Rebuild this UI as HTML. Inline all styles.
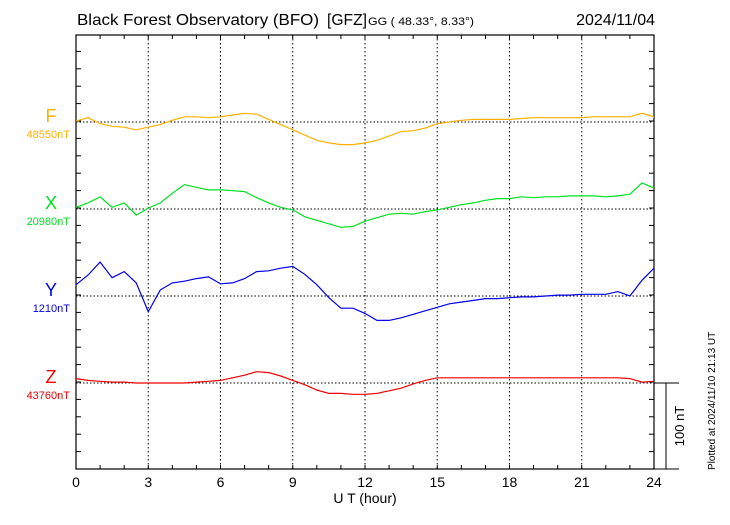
<!DOCTYPE html>
<html><head><meta charset="utf-8"><style>
body{margin:0;background:#fff;width:730px;height:520px;overflow:hidden}
svg text{font-family:"Liberation Sans",sans-serif}
</style></head><body>
<svg id="c" width="730" height="520"></svg>
<script>
const hours=[0,0.5,1,1.5,2,2.5,3,3.5,4,4.5,5,5.5,6,6.5,7,7.5,8,8.5,9,9.5,10,10.5,11,11.5,12,12.5,13,13.5,14,14.5,15,15.5,16,16.5,17,17.5,18,18.5,19,19.5,20,20.5,21,21.5,22,22.5,23,23.5,24];
const fValues=[1,5,-2,-5,-6,-9,-6,-3,2,6,6,5,6,8,10,9,3,-3,-9,-15,-21,-24,-26,-26,-24,-21,-16,-11,-10,-7,-2,0,2,3,3,3,3,4,5,5,5,5,5,6,6,6,6,10,6];
const xValues=[2,7,14,2,7,-7,1,7,18,28,25,22,22,21,20,13,7,2,-1,-9,-13,-17,-21,-20,-14,-10,-6,-5,-6,-3,-1,2,5,7,10,12,12,14,13,14,14,15,15,15,14,15,17,30,24];
const yValues=[13,24,39,21,28,15,-18,7,15,17,20,22,14,15,20,28,29,32,34,25,13,-2,-14,-14,-20,-28,-28,-25,-21,-17,-13,-9,-7,-5,-3,-3,-2,-1,-1,0,1,1,2,2,2,5,0,18,32];
const zValues=[5,3,2,1,1,0,0,0,0,0,1,2,3,6,9,13,12,8,3,-2,-8,-12,-12,-13,-13,-12,-9,-6,-1,3,6,6,6,6,6,6,6,6,6,6,6,6,6,6,6,6,5,1,2];
const xTicks=[0,3,6,9,12,15,18,21,24];
const series=[
 {name:'F',base:'48550nT',vals:fValues,col:'#ffb000',y0:122},
 {name:'X',base:'20980nT',vals:xValues,col:'#00e020',y0:209},
 {name:'Y',base:'1210nT',vals:yValues,col:'#0000ee',y0:296},
 {name:'Z',base:'43760nT',vals:zValues,col:'#ee0000',y0:383}];
const L=76,R=654,T=35,B=469,PX=0.87;
const sx=h=>L+(R-L)*h/24;
const sy=(v,y0)=>y0-v*PX;
const svg=document.getElementById('c');const NS='http://www.w3.org/2000/svg';
function el(t,a,txt){const e=document.createElementNS(NS,t);for(const k in a)e.setAttribute(k,a[k]);if(txt!=null)e.textContent=txt;svg.appendChild(e);return e;}
let e=el('rect',{x:L,y:T,width:R-L,height:B-T,fill:'none',stroke:'#000','stroke-width':1.2});

for(let h=0;h<=24;h++){const x=sx(h);
 e=el('line',{x1:x,y1:T,x2:x,y2:T+4,stroke:'#000'});
 e=el('line',{x1:x,y1:B,x2:x,y2:B-4,stroke:'#000'});}
xTicks.forEach(h=>{const x=sx(h);
 if(h>0&&h<24){e=el('line',{x1:x,y1:T,x2:x,y2:B,stroke:'#000','stroke-dasharray':'1.5,2.5'});}
 e=el('text',{x:x,y:487,'font-size':14,'text-anchor':'middle'},h);});
for(let y=B;y>=T;y-=17.4){e=el('line',{x1:R,y1:y,x2:R-5,y2:y,stroke:'#000'});
 e=el('line',{x1:L,y1:y,x2:L+5,y2:y,stroke:'#000'});}
series.forEach(s=>{
 e=el('line',{x1:L,y1:s.y0,x2:R,y2:s.y0,stroke:'#000','stroke-dasharray':'1.5,2'});
 const d=hours.map((h,i)=>(i?'L':'M')+sx(h).toFixed(1)+','+sy(s.vals[i],s.y0).toFixed(1)).join('');
 e=el('path',{d:d,fill:'none',stroke:s.col,'stroke-width':1.2});
 e=el('text',{x:51,y:s.y0,'font-size':18,fill:s.col,'text-anchor':'middle'},s.name);
 e=el('text',{x:70,y:s.y0+16,'font-size':11,fill:s.col,'text-anchor':'end'},s.base);
});
e=el('line',{x1:R,y1:383,x2:679,y2:383,stroke:'#000'});
e=el('line',{x1:R,y1:B,x2:679,y2:B,stroke:'#000'});
e=el('line',{x1:666,y1:383,x2:666,y2:B,stroke:'#000'});
e=el('text',{x:0,y:0,'font-size':13,'text-anchor':'middle',transform:'translate(684,426) rotate(-90)'},'100 nT');
e=el('text',{x:0,y:0,'font-size':10,'text-anchor':'start',transform:'translate(715,470) rotate(-90)'},'Plotted at 2024/11/10 21:13 UT');
e=el('text',{x:77,y:25,'font-size':16,textLength:242,lengthAdjust:'spacingAndGlyphs'},'Black Forest Observatory (BFO)');
e=el('text',{x:327,y:25,'font-size':16,textLength:40,lengthAdjust:'spacingAndGlyphs'},'[GFZ]');
e=el('text',{x:368,y:25,'font-size':11,textLength:106,lengthAdjust:'spacingAndGlyphs'},'GG ( 48.33°,   8.33°)');
e=el('text',{x:655,y:25,'font-size':16,'text-anchor':'end'},'2024/11/04');
e=el('text',{x:365,y:503,'font-size':14,'text-anchor':'middle'},'U T (hour)');
</script>
</body></html>
